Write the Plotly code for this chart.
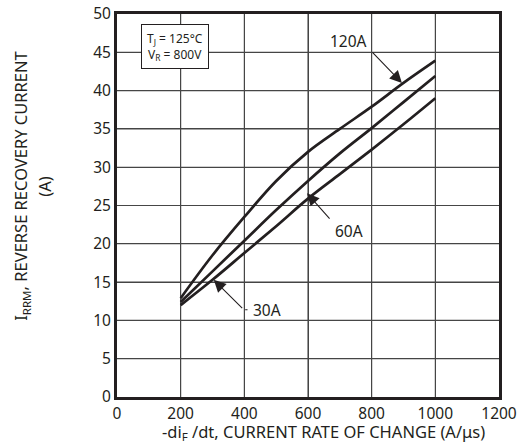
import plotly.graph_objects as go

# data
di_dt = [200, 300, 400, 500, 600, 700, 800, 900, 1000]
irrm_120A = [12.9, 18.5, 23.5, 28.2, 32.0, 35.0, 37.9, 41.0, 43.9]
irrm_60A = [12.4, 16.4, 20.4, 24.4, 28.2, 31.8, 35.1, 38.5, 41.9]
irrm_30A = [12.0, 15.3, 18.8, 22.3, 25.9, 29.1, 32.3, 35.6, 39.0]

x_ticks = [0, 200, 400, 600, 800, 1000, 1200]
y_ticks = [0, 5, 10, 15, 20, 25, 30, 35, 40, 45, 50]

FONT = "Noto Sans"
INK = "#231f20"
GRID = "rgb(70,70,70)"

fig = go.Figure()

# grid lines at the tick values, drawn as a line trace through the axes' scales
gx, gy = [], []
for xv in x_ticks[1:-1]:
    gx += [xv, xv, None]
    gy += [y_ticks[0], y_ticks[-1], None]
for yv in y_ticks[1:-1]:
    gx += [x_ticks[0], x_ticks[-1], None]
    gy += [yv, yv, None]
fig.add_trace(go.Scatter(x=gx, y=gy, mode="lines", line=dict(color=GRID, width=1.1),
                         showlegend=False, hoverinfo="skip", connectgaps=False))

for ys in (irrm_120A, irrm_60A, irrm_30A):
    fig.add_trace(go.Scatter(x=di_dt, y=ys, mode="lines", line_shape="spline",
                             line=dict(color=INK, width=2.7), showlegend=False,
                             hoverinfo="skip"))

ann = []
for tx, ty, ax_, ay_ in [(895, 41.0, 798, 45.2), (597, 26.6, 672, 23.1), (304, 15.3, 398, 11.4)]:
    ann.append(dict(x=tx, y=ty, ax=ax_, ay=ay_, xref="x", yref="y", axref="x", ayref="y",
                    text="", showarrow=True, arrowhead=2, arrowsize=2.2, arrowwidth=1.1,
                    arrowcolor=INK, standoff=0))
ann.append(dict(x=410, y=11.4, ax=398, ay=11.4, xref="x", yref="y", axref="x", ayref="y",
                text="", showarrow=True, arrowhead=0, arrowwidth=1.1, arrowcolor=INK))
for lx, ly, t in [(728, 46.5, "120A"), (728, 21.7, "60A"), (471, 11.3, "30A")]:
    ann.append(dict(x=lx, y=ly, xref="x", yref="y", text=t, showarrow=False,
                    font=dict(family=FONT, size=15.5, color=INK)))
ann.append(dict(x=181, y=45.7, xref="x", yref="y", xanchor="center", yanchor="middle",
                text="T<sub>J</sub> = 125°C<br>V<sub>R</sub> = 800V", showarrow=False, align="center",
                font=dict(family=FONT, size=12, color=INK), bordercolor=INK, borderwidth=1,
                borderpad=5, bgcolor="white"))
ann.append(dict(x=-0.25, y=0.55, xref="paper", yref="paper", xanchor="center", yanchor="middle",
                textangle=-90, text="I<sub>RRM</sub>, REVERSE RECOVERY CURRENT", showarrow=False,
                font=dict(family=FONT, size=16.5, color=INK)))
ann.append(dict(x=-0.19, y=0.55, xref="paper", yref="paper", xanchor="center", yanchor="middle",
                textangle=-90, text="(A)", showarrow=False, font=dict(family=FONT, size=16.5, color=INK)))
ann.append(dict(x=0.54, y=-0.056, xref="paper", yref="paper", xanchor="center", yanchor="top",
                text="-di<sub>F</sub> /dt, CURRENT RATE OF CHANGE (A/μs)", showarrow=False,
                font=dict(family=FONT, size=16.5, color=INK)))

axis_common = dict(showgrid=True, gridcolor=GRID, gridwidth=1, zeroline=False,
                   showline=True, linecolor=INK, linewidth=3, mirror=True, ticks="",
                   tickmode="linear",
                   tickfont=dict(family=FONT, size=15.5, color=INK), layer="above traces")

fig.update_layout(
    width=522, height=444,
    margin=dict(l=117, r=23, t=14, b=47, pad=0, autoexpand=False),
    paper_bgcolor="white", plot_bgcolor="white",
    annotations=ann,
    xaxis=dict(range=[0, 1200], tick0=x_ticks[0], dtick=x_ticks[1] - x_ticks[0], **axis_common),
    yaxis=dict(range=[0, 50], tick0=y_ticks[0], dtick=y_ticks[1] - y_ticks[0], **axis_common),
)
fig.write_html("out.html", config={"displayModeBar": False},
               post_script="document.body.style.margin='0';document.body.style.overflow='hidden';")
